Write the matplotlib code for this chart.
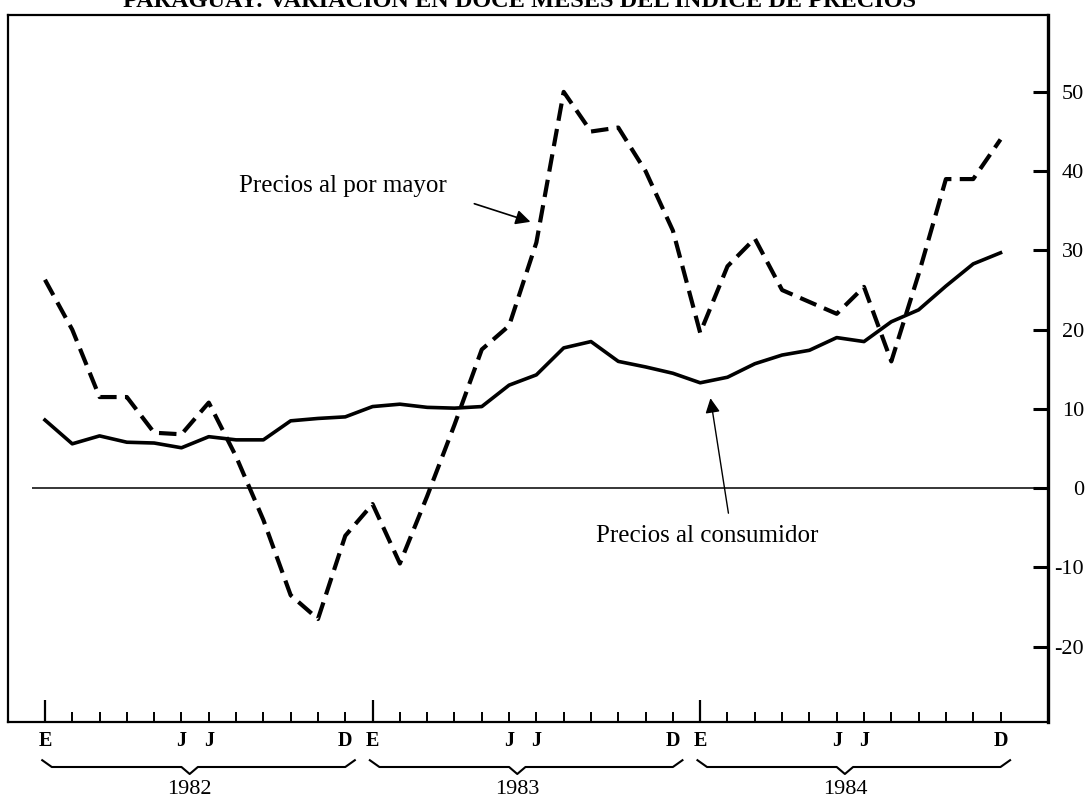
import numpy as np
import matplotlib.pyplot as plt

# Data: twelve-month variation (%), Jan 1982 - Dec 1984
years = ['1982', '1983', '1984']
month_labels = ['E', '', '', '', '', 'J', 'J', '', '', '', '', 'D']
consumer = [8.6, 5.6, 6.6, 5.8, 5.7, 5.1, 6.5, 6.1, 6.1, 8.5, 8.8, 9.0,
            10.3, 10.6, 10.2, 10.1, 10.3, 13.0, 14.3, 17.7, 18.5, 16.0, 15.3, 14.5,
            13.3, 14.0, 15.7, 16.8, 17.4, 19.0, 18.5, 21.0, 22.5, 25.5, 28.3, 29.7]
wholesale = [26.3, 20.0, 11.5, 11.5, 7.0, 6.8, 10.8, 4.0, -4.0, -13.5, -16.5, -6.0,
             -2.0, -9.5, -1.0, 8.0, 17.5, 20.5, 31.0, 50.0, 45.0, 45.5, 40.0, 32.5,
             19.6, 28.0, 31.5, 25.0, 23.5, 22.0, 25.4, 16.0, 27.0, 39.0, 39.0, 44.0]
yticks = [-20, -10, 0, 10, 20, 30, 40, 50]
title = 'PARAGUAY: VARIACION EN DOCE MESES DEL INDICE DE PRECIOS'

plt.rcParams['font.family'] = ['Liberation Serif', 'DejaVu Serif']

x = np.arange(len(consumer))

fig = plt.figure(figsize=(10.91, 7.98), dpi=100)
ax = fig.add_axes([0.0073, 0.0952, 0.9533, 0.886])

ax.plot(x, consumer, color='k', lw=2.6, solid_joinstyle='round')
ax.plot(x, wholesale, color='k', lw=3.0, dashes=(4.2, 2.0))
ax.hlines(0, -0.48, 37, color='k', lw=1.1)

ax.set_xlim(-1.355, 36.74)
ax.set_ylim(-29.5, 59.7)

# spines
for s in ['left', 'top', 'bottom']:
    ax.spines[s].set_linewidth(1.6)
ax.spines['right'].set_linewidth(2.4)

# x ticks: tall at E, short at the other months
ax.set_xticks([0, 12, 24])
ax.set_xticks([m for m in x if m % 12 != 0], minor=True)
ax.tick_params(axis='x', which='major', direction='in', length=16, width=1.6,
               labelbottom=False)
ax.tick_params(axis='x', which='minor', direction='in', length=7, width=1.4)

# y ticks on right side
ax.yaxis.tick_right()
ax.set_yticks(yticks)
ax.set_yticklabels([str(v) for v in yticks])
ax.tick_params(axis='y', direction='in', length=11, width=2.2, pad=26, labelsize=16)
for lab in ax.get_yticklabels():
    lab.set_horizontalalignment('right')

tr = ax.get_xaxis_transform()
for k, yr in enumerate(years):
    for m, lab in enumerate(month_labels):
        if lab:
            ax.text(12 * k + m, -0.027, lab, transform=tr, ha='center', va='center',
                    fontsize=14.5, fontweight='bold', clip_on=False)
    # curly brace under each year
    x0 = 12 * k - 0.1
    x1 = 12 * k + 11.35
    xc = 12 * k + 5.3
    bx = [x0, x0 + 0.35, xc - 0.3, xc, xc + 0.3, x1 - 0.35, x1]
    by = [-0.054, -0.0636, -0.0636, -0.0735, -0.0636, -0.0636, -0.054]
    ax.plot(bx, by, transform=tr, color='k', lw=1.5, clip_on=False)
    ax.text(xc, -0.095, yr, transform=tr, ha='center', va='center', fontsize=16,
            clip_on=False)

# annotations
ax.text(7.1, 37.4, 'Precios al por mayor', fontsize=18, ha='left', va='baseline')
ax.annotate('', xy=(17.88, 33.5), xytext=(15.63, 36.0),
            arrowprops=dict(arrowstyle='-|>', color='k', lw=1.2, mutation_scale=22))
ax.text(20.2, -6.8, 'Precios al consumidor', fontsize=18, ha='left', va='baseline')
ax.annotate('', xy=(24.36, 11.7), xytext=(25.05, -3.5),
            arrowprops=dict(arrowstyle='-|>', color='k', lw=1.0, mutation_scale=22))

# title, top part cut off by the page edge
fig.text(0.476, 1 - 7 / 798, title, ha='center', va='baseline', fontsize=17.5,
         fontweight='bold')

fig.savefig('out.png', dpi=100)
